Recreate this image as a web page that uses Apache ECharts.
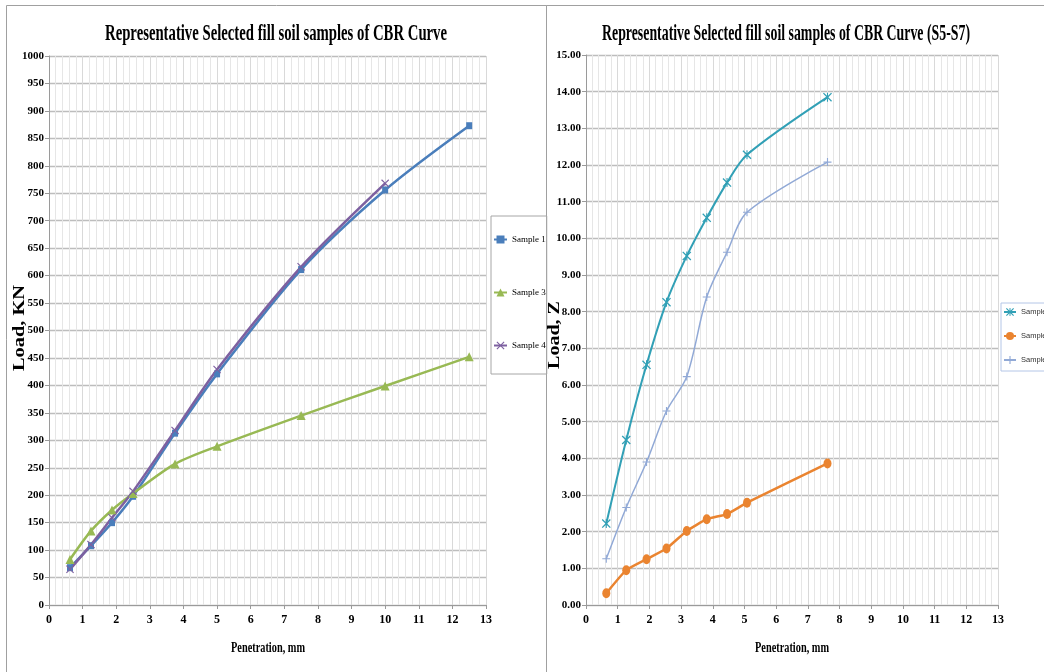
<!DOCTYPE html>
<html>
<head>
<meta charset="utf-8">
<title>CBR Curves</title>
<script src="https://cdn.jsdelivr.net/npm/echarts@6/dist/echarts.min.js"></script>
<style>
  html, body { margin: 0; padding: 0; background: #ffffff; }
  #chart { width: 1044px; height: 672px; }
</style>
</head>
<body>
<div id="chart"></div>
<script>
// Penetration readings (mm) for the fill soil samples
const penetrationA = [0.625, 1.25, 1.875, 2.5, 3.75, 5, 7.5, 10, 12.5];
const sample1 = [68, 108, 150, 198, 313, 421, 611, 756, 873];
const sample3 = [83, 135, 173, 203, 257, 289, 345, 399, 452];
const sample4 = [65, 110, 159, 207, 318, 429, 616, 768];

// Penetration readings (mm) for samples S5-S7
const penetrationB = [0.64, 1.27, 1.91, 2.54, 3.18, 3.81, 4.45, 5.08, 7.62];
const sample5 = [2.22, 4.5, 6.55, 8.26, 9.52, 10.56, 11.52, 12.28, 13.85];
const sample6 = [0.32, 0.95, 1.25, 1.54, 2.02, 2.34, 2.48, 2.79, 3.86];
const sample7 = [1.26, 2.66, 3.9, 5.29, 6.23, 8.4, 9.62, 10.71, 12.08];

// Axis ticks
const xTicks = { min: 0, max: 13, interval: 1 };
const yTicksA = { min: 0, max: 1000, interval: 50 };
const yTicksB = { min: 0, max: 15, interval: 1 };

const titleA = 'Representative Selected fill soil samples of CBR Curve';
const titleB = 'Representative Selected fill soil samples of CBR Curve (S5-S7)';
const xName = 'Penetration, mm';
const yNameA = 'Load, KN';
const yNameB = 'Load, Z';

const pairs = (xs, ys) => ys.map((y, i) => [xs[i], y]);

// Marker outlines
const X_SHAPE = 'path://M1,0L5,4L9,0L10,1L6,5L10,9L9,10L5,6L1,10L0,9L4,5L0,1Z';
const STAR_SHAPE = 'path://M1,0L5,4L9,0L10,1L6,5L10,9L9,10L5,6L1,10L0,9L4,5L0,1Z M4.4,0H5.6V10H4.4Z';
const PLUS_SHAPE = 'path://M4.3,0H5.7V4.3H10V5.7H5.7V10H4.3V5.7H0V4.3H4.3Z';

// Narrow serif lettering: squeeze the text horizontally to a given width
const measureCtx = document.createElement('canvas').getContext('2d');
function squeeze(text, font, width) {
  measureCtx.font = font;
  return width / measureCtx.measureText(text).width;
}
function label(text, x, y, size, width, rotation) {
  const font = 'bold ' + size + 'px "Liberation Serif"';
  return {
    type: 'text', x: x, y: y, rotation: rotation || 0,
    scaleX: squeeze(text, font, width), scaleY: 1,
    silent: true, z: 10,
    style: {
      text: text, font: font, fill: '#000',
      align: 'center', verticalAlign: 'middle',
      textAlign: 'center', textVerticalAlign: 'middle'
    }
  };
}

const TICK_FONT = { fontFamily: 'Liberation Serif', fontWeight: 'bold', color: '#000' };

function xAxisFor(gridIndex) {
  return {
    type: 'value', gridIndex: gridIndex,
    min: xTicks.min, max: xTicks.max, interval: xTicks.interval,
    axisLine: { show: true, onZero: false, lineStyle: { color: '#9a9a9a', width: 1 } },
    axisTick: { show: true, length: 4, lineStyle: { color: '#9a9a9a' } },
    minorTick: { show: false, splitNumber: 5 },
    axisLabel: Object.assign({ fontSize: 12, margin: 9 }, TICK_FONT),
    splitLine: { show: true, lineStyle: { color: '#d9d9d9', width: 1 } },
    minorSplitLine: { show: true, lineStyle: { color: '#e6e6e6', width: 1 } }
  };
}
function yAxisFor(gridIndex, ticks, fmt) {
  return {
    type: 'value', gridIndex: gridIndex,
    min: ticks.min, max: ticks.max, interval: ticks.interval,
    axisLine: { show: true, lineStyle: { color: '#9a9a9a', width: 1 } },
    axisTick: { show: true, length: 4, lineStyle: { color: '#9a9a9a' } },
    axisLabel: Object.assign({ fontSize: 11, margin: 5, formatter: fmt }, TICK_FONT),
    splitLine: { show: true, lineStyle: { color: '#bdbdbd', width: 1.3 } }
  };
}

function lineSeries(name, xi, xs, ys, color, symbol, size, width, smooth) {
  return {
    name: name, type: 'line',
    xAxisIndex: xi, yAxisIndex: xi,
    data: pairs(xs, ys),
    smooth: smooth,
    symbol: symbol, symbolSize: size, showSymbol: true,
    color: color,
    itemStyle: { color: color },
    lineStyle: { color: color, width: width },
    emphasis: { disabled: true },
    animation: false
  };
}

const chart = echarts.init(document.getElementById('chart'), null, { renderer: 'canvas' });

chart.setOption({
  backgroundColor: '#ffffff',
  animation: false,
  grid: [
    { left: 49, top: 56, width: 437, height: 549, containLabel: false },
    { left: 586, top: 55, width: 412, height: 550, containLabel: false }
  ],
  xAxis: [xAxisFor(0), xAxisFor(1)],
  yAxis: [
    yAxisFor(0, yTicksA, v => String(v)),
    yAxisFor(1, yTicksB, v => v.toFixed(2))
  ],
  legend: [
    {
      data: ['Sample 1', 'Sample 3', 'Sample 4'],
      orient: 'vertical', left: 491, top: 216,
      itemWidth: 13, itemHeight: 10, itemGap: 44,
      padding: [19, 1, 24, 2],
      borderColor: '#a6a6a6', borderWidth: 1,
      selectedMode: false,
      textStyle: { fontFamily: 'Liberation Serif', fontSize: 9, color: '#000' }
    },
    {
      data: ['Sample 5', 'Sample 6', 'Sample 7'],
      orient: 'vertical', left: 1001, top: 303,
      itemWidth: 12, itemHeight: 10, itemGap: 16,
      padding: [5, 30, 7, 2],
      borderColor: '#b4c6e7', borderWidth: 1,
      selectedMode: false,
      formatter: () => 'Sample',
      textStyle: { fontFamily: 'Liberation Sans', fontSize: 7.5, color: '#333' }
    }
  ],
  series: [
    lineSeries('Sample 1', 0, penetrationA, sample1, '#4a7ebb', 'rect', [6, 7], 2.5, 0.3),
    lineSeries('Sample 3', 0, penetrationA, sample3, '#98b954', 'triangle', 9, 2.5, 0.3),
    lineSeries('Sample 4', 0, penetrationA, sample4, '#7d60a0', X_SHAPE, 8, 2.5, 0.3),
    lineSeries('Sample 5', 1, penetrationB, sample5, '#31a0b6', STAR_SHAPE, 9, 2, 0.3),
    lineSeries('Sample 6', 1, penetrationB, sample6, '#ea8430', 'circle', [8, 10], 2.5, 0.15),
    lineSeries('Sample 7', 1, penetrationB, sample7, '#91a9d6', PLUS_SHAPE, 8, 1.5, 0.3)
  ],
  graphic: [
    // panel frames
    { type: 'rect', silent: true, z: -10, shape: { x: 6.5, y: 5.5, width: 540, height: 700 },
      style: { fill: 'none', stroke: '#a0a0a0', lineWidth: 1 } },
    { type: 'rect', silent: true, z: -10, shape: { x: 546.5, y: 5.5, width: 540, height: 700 },
      style: { fill: 'none', stroke: '#a0a0a0', lineWidth: 1 } },
    label(titleA, 276, 34, 23, 342),
    label(titleB, 786, 34, 23, 368),
    label(xName, 268, 648, 15, 74),
    label(xName, 792, 648, 15, 74),
    label(yNameA, 20, 328, 17, 86, Math.PI / 2),
    label(yNameB, 555, 335, 17, 68, Math.PI / 2)
  ]
});
</script>
</body>
</html>
